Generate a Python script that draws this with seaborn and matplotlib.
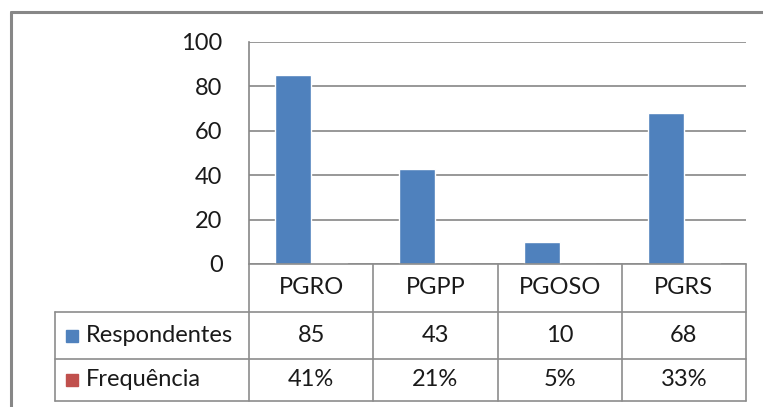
import numpy as np
import pandas as pd
import matplotlib
matplotlib.use("Agg")
import matplotlib.pyplot as plt
import seaborn as sns

# data
categories = ["PGRO", "PGPP", "PGOSO", "PGRS"]
respondentes = [85, 43, 10, 68]
frequencia = [0.41, 0.21, 0.05, 0.33]
freq_labels = ["41%", "21%", "5%", "33%"]
series = ["Respondentes", "Frequência"]
colors = ["#4F81BD", "#C0504D"]

sns.set_style("white")
plt.rcParams["font.family"] = ["Lato", "DejaVu Sans"]

df = pd.DataFrame({
    "cat": categories * 2,
    "serie": [series[0]] * 4 + [series[1]] * 4,
    "valor": respondentes + frequencia,
})

W, H = 763, 407
fig = plt.figure(figsize=(W / 100, H / 100), dpi=100)

def fx(px):
    return px / W

def fy(py):
    return 1 - py / H

fs = 17

# plot area
x0, x1, y_top, y_zero = 249, 746, 42, 264
ax = fig.add_axes([fx(x0), fy(y_zero), fx(x1) - fx(x0), fy(y_top) - fy(y_zero)])
sns.barplot(data=df, x="cat", y="valor", hue="serie", palette=colors,
            width=0.58, dodge=True, ax=ax, legend=False, saturation=1)
ax.set_ylim(0, 100)
ax.set_xlim(-0.5, 3.5)
ax.set_yticks(range(0, 101, 20))
ax.yaxis.grid(True, color="#868686", linewidth=1.2)
ax.set_axisbelow(True)
for s in ["top", "right", "bottom"]:
    ax.spines[s].set_visible(False)
ax.spines["left"].set_color("#868686")
ax.spines["left"].set_linewidth(1.2)
ax.tick_params(axis="y", length=0, pad=19, labelsize=fs, labelcolor="#1a1a1a")
ax.set_xticks([])
ax.set_xlabel("")
ax.set_ylabel("")

# outer frame of the chart
lc = "#8c8c8c"
fig.add_artist(plt.Line2D([fx(11), fx(11)], [fy(12), fy(H + 5)], color="#878787", lw=2.2))
fig.add_artist(plt.Line2D([fx(11), fx(W + 5)], [fy(12), fy(12)], color="#878787", lw=2.2))

# data table
t_left, r1, r2, r3, r4 = 55, 264, 312, 359, 401
def hline(y, xa, xb):
    fig.add_artist(plt.Line2D([fx(xa), fx(xb)], [fy(y), fy(y)], color=lc, lw=1.2))
def vline(x, ya, yb):
    fig.add_artist(plt.Line2D([fx(x), fx(x)], [fy(ya), fy(yb)], color=lc, lw=1.2))

hline(r1, x0, x1)
hline(r2, t_left, x1)
hline(r3, t_left, x1)
hline(r4, t_left, x1)
vline(t_left, r2, r4)
cw = (x1 - x0) / len(categories)
for i in range(len(categories) + 1):
    vline(x0 + i * cw, r1, r4)

tc = "#1a1a1a"
for i, cat in enumerate(categories):
    cx = x0 + (i + 0.5) * cw
    fig.text(fx(cx), fy((r1 + r2) / 2), cat, ha="center", va="center", fontsize=fs, color=tc)
    fig.text(fx(cx), fy((r2 + r3) / 2), str(respondentes[i]), ha="center", va="center", fontsize=fs, color=tc)
    fig.text(fx(cx), fy((r3 + r4) / 2), freq_labels[i], ha="center", va="center", fontsize=fs, color=tc)

for name, col, (ya, yb) in zip(series, colors, [(r2, r3), (r3, r4)]):
    ym = (ya + yb) / 2
    fig.add_artist(plt.Rectangle((fx(66), fy(ym + 6)), fx(12), fy(0) - fy(12), color=col))
    fig.text(fx(86), fy(ym), name, ha="left", va="center", fontsize=fs, color=tc)

fig.savefig("out.png", dpi=100)
